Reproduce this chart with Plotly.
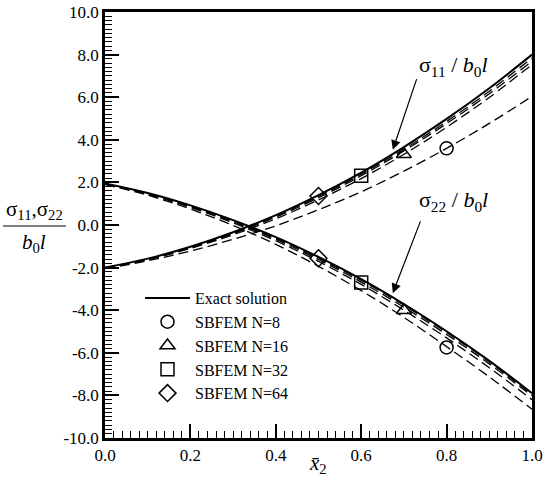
import plotly.graph_objects as go

x = [0.0, 0.1, 0.2, 0.3, 0.4, 0.5, 0.6, 0.7, 0.8, 0.9, 1.0]

s11_exact = [-2.0, -1.58, -1.02, -0.34, 0.46, 1.40, 2.46, 3.66, 4.98, 6.42, 8.00]
s11_n8 = [-2.05, -1.68, -1.22, -0.67, -0.04, 0.72, 1.56, 2.53, 3.60, 4.77, 6.04]
s11_n16 = [-2.03, -1.63, -1.10, -0.46, 0.29, 1.18, 2.18, 3.32, 4.59, 5.99, 7.53]
s11_n32 = [-2.02, -1.61, -1.07, -0.41, 0.37, 1.28, 2.31, 3.48, 4.76, 6.16, 7.69]
s11_n64 = [-2.01, -1.60, -1.05, -0.38, 0.42, 1.34, 2.38, 3.56, 4.86, 6.28, 7.84]

s22_exact = [1.95, 1.50, 0.92, 0.23, -0.57, -1.50, -2.54, -3.71, -4.99, -6.38, -7.90]
s22_n8 = [1.90, 1.40, 0.75, -0.02, -0.91, -1.94, -3.08, -4.34, -5.71, -7.13, -8.65]
s22_n16 = [1.92, 1.44, 0.83, 0.10, -0.74, -1.71, -2.79, -4.00, -5.30, -6.70, -8.20]
s22_n32 = [1.93, 1.46, 0.86, 0.15, -0.67, -1.62, -2.68, -3.86, -5.14, -6.52, -8.02]
s22_n64 = [1.94, 1.48, 0.89, 0.19, -0.62, -1.56, -2.60, -3.77, -5.05, -6.43, -7.95]

# marker samples
mk_names = ["SBFEM N=8", "SBFEM N=16", "SBFEM N=32", "SBFEM N=64"]
mk_symbols = ["circle-open", "triangle-up-open", "square-open", "diamond-open"]
mk_x = [0.8, 0.7, 0.6, 0.5]
mk_s11 = [3.60, 3.32, 2.31, 1.36]
mk_s22 = [-5.75, -4.00, -2.70, -1.56]

x_ticks = [0.0, 0.2, 0.4, 0.6, 0.8, 1.0]
x_ticktext = ["0.0", "0.2", "0.4", "0.6", "0.8", "1.0"]
y_ticks = [-10, -8, -6, -4, -2, 0, 2, 4, 6, 8, 10]
y_ticktext = ["-10.0", "-8.0", "-6.0", "-4.0", "-2.0", "0.0", "2.0", "4.0", "6.0", "8.0", "10.0"]

FONT = "Liberation Serif"

fig = go.Figure()

# dashed SBFEM curves
for ys in [s11_n8, s11_n16, s11_n32, s11_n64, s22_n8, s22_n16, s22_n32, s22_n64]:
    fig.add_trace(go.Scatter(x=x, y=ys, mode="lines", showlegend=False,
                             line=dict(color="black", width=1.3, dash="10px,5px", shape="spline"),
                             hoverinfo="skip"))

fig.add_trace(go.Scatter(x=x, y=s11_exact, mode="lines", name="Exact solution",
                         line=dict(color="black", width=2, shape="spline")))
fig.add_trace(go.Scatter(x=x, y=s22_exact, mode="lines", showlegend=False,
                         line=dict(color="black", width=2, shape="spline")))

for i in range(4):
    fig.add_trace(go.Scatter(x=[mk_x[i], mk_x[i]], y=[mk_s11[i], mk_s22[i]], mode="markers",
                             name=mk_names[i],
                             marker=dict(symbol=mk_symbols[i], size=13, color="black",
                                         line=dict(color="black", width=1.5))))

axis_common = dict(showline=True, linewidth=2.5, linecolor="black", mirror=True,
                   ticks="inside", ticklen=14, tickwidth=1.5, tickcolor="black",
                   showgrid=False, zeroline=False, automargin=False,
                   tickfont=dict(family=FONT, size=17, color="black"))

fig.update_xaxes(range=[0, 1], tickvals=x_ticks, ticktext=x_ticktext,
                 minor=dict(dtick=0.02, ticks="inside", ticklen=7, tickwidth=1, tickcolor="black"),
                 **axis_common)
fig.update_yaxes(range=[-10, 10], tickvals=y_ticks, ticktext=y_ticktext,
                 minor=dict(dtick=0.2, ticks="inside", ticklen=7, tickwidth=1, tickcolor="black"),
                 **axis_common)

ann = []
# arrows
ann.append(dict(x=0.674, y=3.53, ax=0.731, ay=6.92, xref="x", yref="y", axref="x", ayref="y",
                text="", showarrow=True, arrowhead=2, arrowsize=1.6, arrowwidth=1.2, arrowcolor="black"))
ann.append(dict(x=0.674, y=-3.2, ax=0.74, ay=0.24, xref="x", yref="y", axref="x", ayref="y",
                text="", showarrow=True, arrowhead=2, arrowsize=1.6, arrowwidth=1.2, arrowcolor="black"))
ann.append(dict(x=0.815, y=7.45, xref="x", yref="y", showarrow=False, xanchor="center",
                text="σ<sub>11</sub> / <i>b</i><sub>0</sub><i>l</i>",
                font=dict(family=FONT, size=22, color="black")))
ann.append(dict(x=0.815, y=1.12, xref="x", yref="y", showarrow=False, xanchor="center",
                text="σ<sub>22</sub> / <i>b</i><sub>0</sub><i>l</i>",
                font=dict(family=FONT, size=22, color="black")))
# y-axis title as fraction
ann.append(dict(x=34, y=210, xref="paper", yref="paper", showarrow=False, xanchor="center",
                text="σ<sub>11</sub>,σ<sub>22</sub>",
                font=dict(family=FONT, size=21, color="black")))
ann.append(dict(x=34, y=243, xref="paper", yref="paper", showarrow=False, xanchor="center",
                text="<i>b</i><sub>0</sub><i>l</i>",
                font=dict(family=FONT, size=21, color="black")))
ann.append(dict(x=318, y=479, xref="paper", yref="paper", showarrow=False, xanchor="center",
                text="<i>x\u0304</i><sub>2</sub>",
                font=dict(family=FONT, size=21, color="black")))

# convert pixel positions for paper-ref annotations
L, R, T, B = 105, 25, 12, 48
W, H = 557, 486
pw, ph = W - L - R, H - T - B
for a in ann:
    if a.get("xref") == "paper":
        a["x"] = (a["x"] - L) / pw
        a["y"] = (H - B - a["y"]) / ph

fig.update_layout(
    width=W, height=H,
    margin=dict(l=L, r=R, t=T, b=B, autoexpand=False),
    paper_bgcolor="white", plot_bgcolor="white",
    font=dict(family=FONT, size=16, color="black"),
    annotations=ann,
    shapes=[dict(type="line", xref="paper", yref="paper",
                 x0=(3 - L) / pw, x1=(66 - L) / pw,
                 y0=(H - B - 226) / ph, y1=(H - B - 226) / ph,
                 line=dict(color="black", width=1.2))],
    legend=dict(x=(140 - L) / pw, y=(H - B - 281) / ph, xanchor="left", yanchor="top",
                bgcolor="rgba(0,0,0,0)", font=dict(family=FONT, size=16, color="black"),
                itemwidth=45, tracegroupgap=0),
)

fig.write_html("out.html")
